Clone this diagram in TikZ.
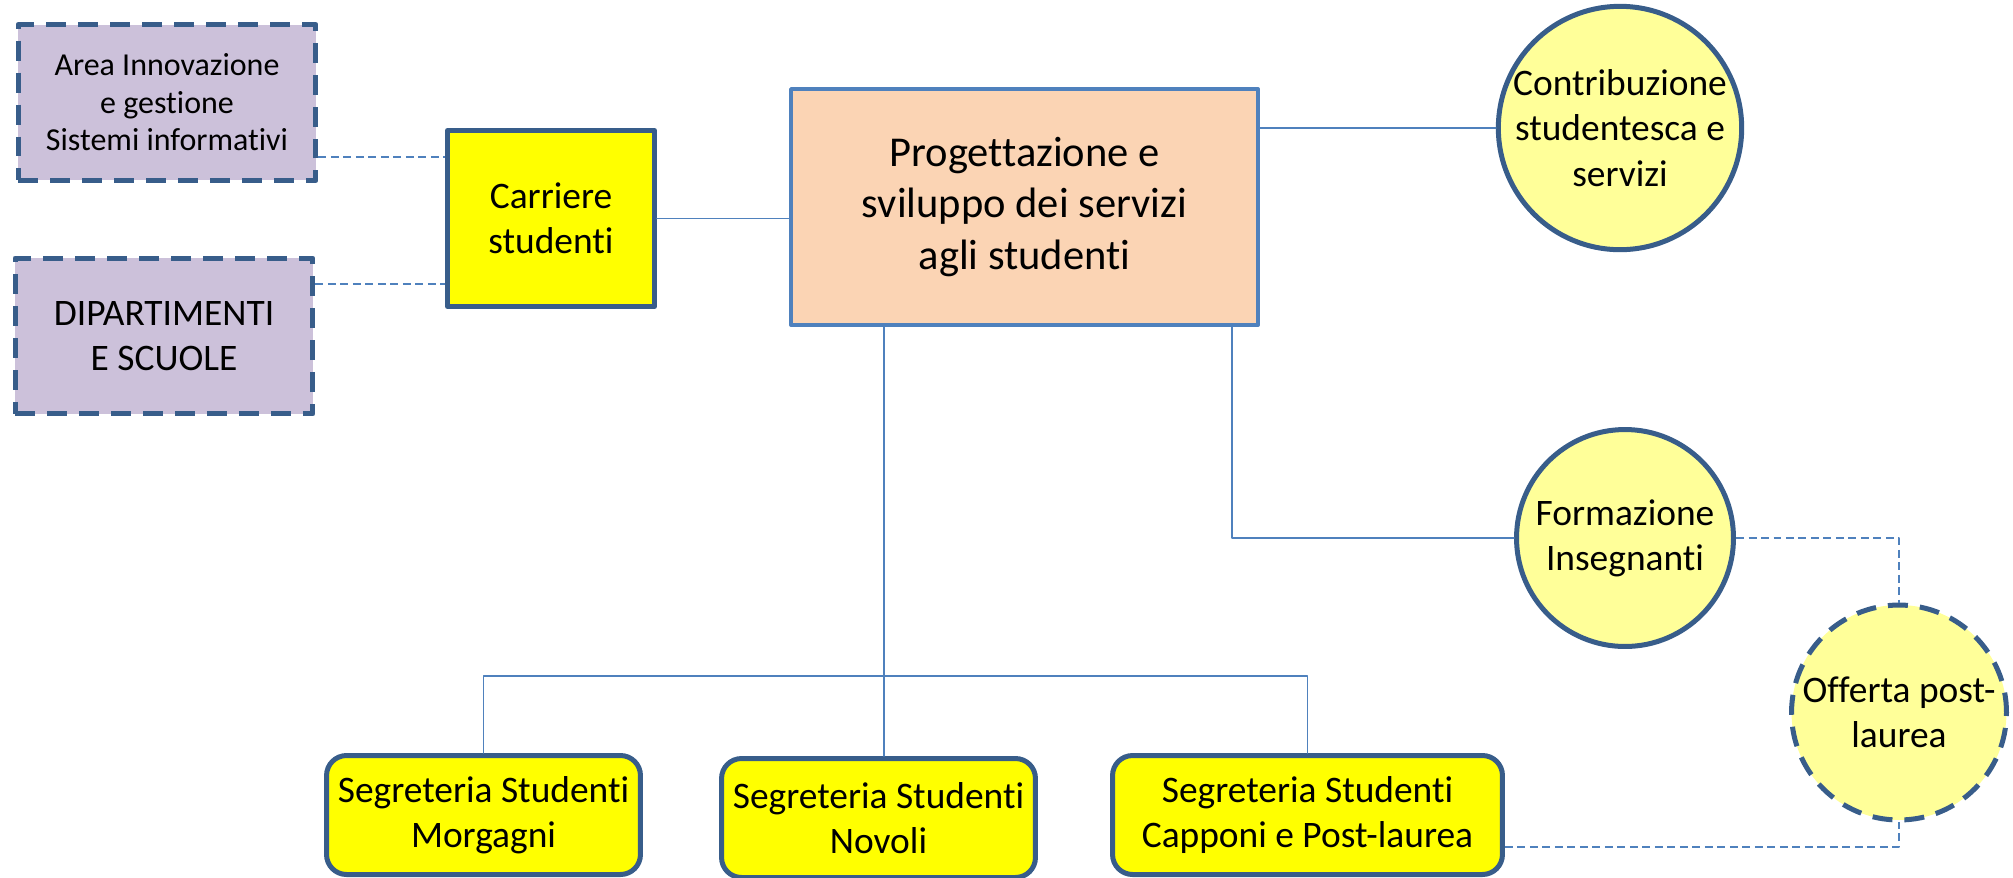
\documentclass[tikz,border=0pt]{standalone}
\usepackage{fontspec}
\setmainfont{Carlito}[Ligatures=NoCommon]
\usepackage{tikz}
\newcommand{\testo}{\fontsize{21.3}{25.8}\selectfont}
\newcommand{\testopiccolo}{\fontsize{18.2}{21.3}\selectfont}
\newcommand{\testogrande}{\fontsize{24.2}{29.2}\selectfont}
\definecolor{rozdoa}{rgb}{0.2196,0.3647,0.5412}
\definecolor{tfowbd}{rgb}{0.3098,0.5059,0.7412}
\definecolor{cccwda}{rgb}{0.8,0.7569,0.8549}
\definecolor{fbdtbt}{rgb}{0.9843,0.8314,0.7059}
\definecolor{ffffqq}{rgb}{1.,1.,0.}
\definecolor{ffffpp}{rgb}{1.,1.,0.6}
\begin{document}
\begin{tikzpicture}[line cap=round,line join=round,x=0.02cm,y=-0.02cm,
box/.style={draw=rozdoa,line width=0.1cm,align=center,inner sep=0pt,font=\testo},
areabox/.style={box,fill=cccwda,line cap=butt,dash pattern=on 0.4cm off 0.24cm,minimum width=5.96cm,minimum height=3.12cm},
carrbox/.style={box,fill=ffffqq,minimum width=4.14cm,minimum height=3.52cm},
segrbox/.style={box,fill=ffffqq,rounded corners=0.4cm,minimum height=2.38cm},
tondo/.style={box,circle,fill=ffffpp},
link/.style={draw=tfowbd,line width=0.03cm},
dashlink/.style={link,line cap=butt,dash pattern=on 0.16cm off 0.09cm}]
\useasboundingbox (0,0) rectangle (2013,877);
\clip (0,0) rectangle (2013,877);
\node[areabox,font=\testopiccolo] (areainn) at (167,102.5) {Area Innovazione\\e gestione\\Sistemi informativi};
\node[areabox] (dip) at (164,336) {DIPARTIMENTI\\E SCUOLE};
\node[carrbox] (carr) at (551,218.5) {Carriere\\studenti};
\node[box,draw=tfowbd,line width=0.08cm,fill=fbdtbt,font=\testogrande,minimum width=9.34cm,minimum height=4.72cm] (prog) at (1024.5,207) {Progettazione e\\sviluppo dei servizi\\agli studenti};
\node[tondo,minimum size=4.8cm] (contr) at (1620,128) {Contribuzione\\studentesca e\\servizi};
\node[tondo,minimum size=4.34cm] (form) at (1625,538) {Formazione\\Insegnanti};
\node[tondo,line cap=butt,dash pattern=on 0.4cm off 0.24cm,minimum size=4.3cm] (off) at (1899,712.5) {Offerta post-\\laurea};
\node[segrbox,minimum width=6.28cm] (morg) at (483.5,815) {Segreteria Studenti\\Morgagni};
\node[segrbox,minimum width=6.28cm] (nov) at (878.5,818) {Segreteria Studenti\\Novoli};
\node[segrbox,minimum width=7.8cm] (capp) at (1307.5,815) {Segreteria Studenti\\Capponi e Post-laurea};
\coordinate (bus) at (884,676);
\draw[dashlink] (areainn.east |- 0,157) -- (carr.west |- 0,157);
\draw[dashlink] (dip.east |- 0,284) -- (carr.west |- 0,284);
\draw[link] (carr.east) -- (carr.east -| prog.west);
\draw[link] (prog.east |- contr.west) -- (contr.west);
\draw[link] (prog.south -| 1232,0) |- (form.west);
\draw[link] (prog.south -| bus) -- (nov.north -| bus);
\draw[link] (morg.north) |- (bus) -| (capp.north);
\draw[dashlink] (form.east) -| (off.north);
\draw[dashlink] (capp.east |- 0,847) -| (off.south);
\end{tikzpicture}
\end{document}
